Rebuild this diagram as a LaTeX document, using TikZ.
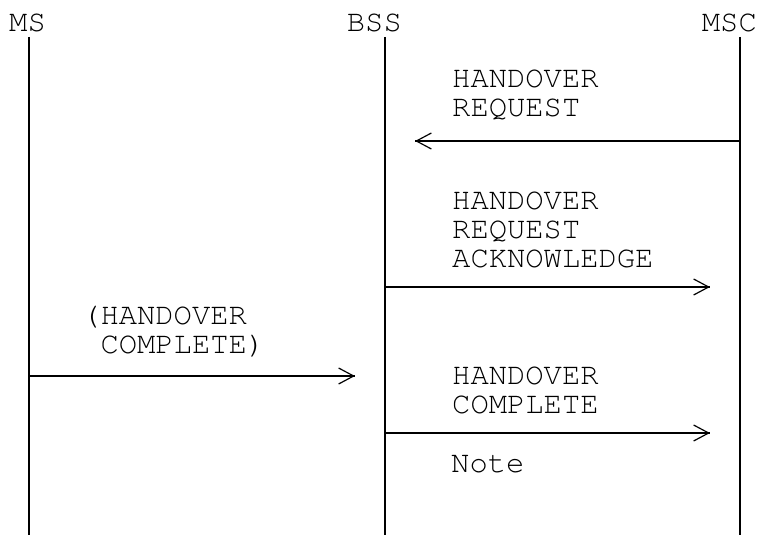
\documentclass[tikz,border=0pt]{standalone}
\usepackage[T1]{fontenc}
\usepackage{courier}
\usetikzlibrary{arrows.meta}

\begin{document}
\begin{tikzpicture}[x=1pt,y=-1pt,
    every node/.style={font=\ttfamily\fontsize{30.5}{29}\selectfont, inner sep=0pt},
    txt/.style={anchor=base west, align=left},
    life/.style={line width=2pt},
    msg/.style={line width=2pt, -{Straight Barb[length=15pt,width=16pt,line width=1.2pt,sep=0pt]Bar[width=0pt,line width=0.1pt,sep=0pt]}, shorten >=30pt}]
    \useasboundingbox (0,0) rectangle (761,535);
    \node[anchor=base east] (ms) at (46,32) {MS};
    \node[anchor=base east] (bss) at (402,32) {BSS};
    \node[anchor=base east] (msc) at (757,32) {MSC};
    \coordinate (mstop) at (29,37);
    \coordinate (bsstop) at (385,37);
    \coordinate (msctop) at (740,37);
    \draw[life] (mstop) -- (mstop |- 0,535);
    \draw[life] (bsstop) -- (bsstop |- 0,535);
    \draw[life] (msctop) -- (msctop |- 0,535);
    \node[txt] (req) at (452,117) {HANDOVER\\REQUEST};
    \draw[msg] (msctop |- 0,141) -- (bsstop |- 0,141);
    \node[txt] (ack) at (452,267) {HANDOVER\\REQUEST\\ACKNOWLEDGE};
    \draw[msg] (bsstop |- 0,287) -- (msctop |- 0,287);
    \node[txt] (mscmp) at (82,353) {(HANDOVER\\\ COMPLETE)};
    \draw[msg] (mstop |- 0,376) -- (bsstop |- 0,376);
    \node[txt] (cmp) at (452,413) {HANDOVER\\COMPLETE};
    \draw[msg] (bsstop |- 0,433) -- (msctop |- 0,433);
    \node[txt] (note) at (451,472) {Note};
\end{tikzpicture}
\end{document}
